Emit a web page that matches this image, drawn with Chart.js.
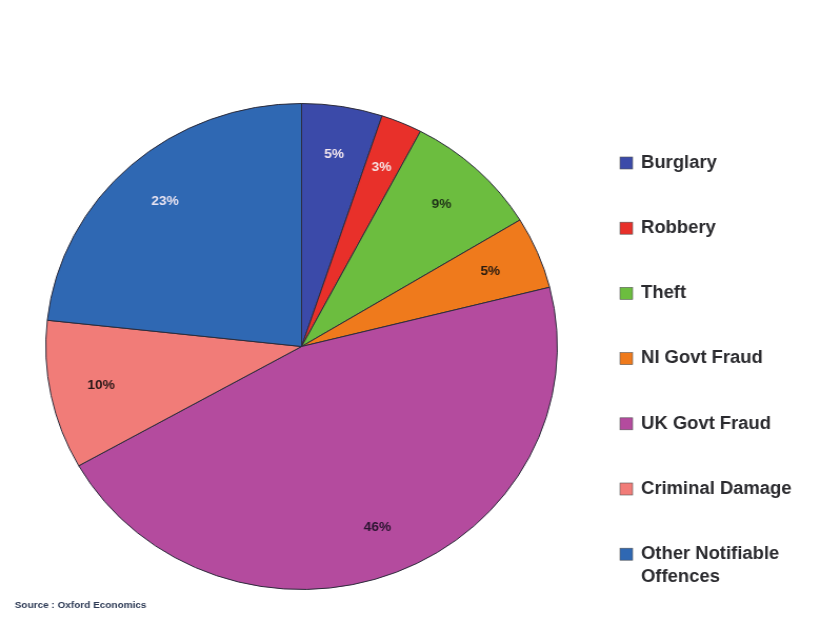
<!DOCTYPE html>
<html>
<head>
<meta charset="utf-8">
<title>Fraud and crime cost shares</title>
<script src="https://cdn.jsdelivr.net/npm/chart.js@4.4.1/dist/chart.umd.min.js"></script>
<style>
  html, body { margin: 0; padding: 0; background: #fff; overflow: hidden; }
  /* the original artwork is a little wider than tall, so the whole chart is stretched */
  #wrap { position: absolute; left: 0; top: 0; width: 779px; height: 635px;
          transform: scaleX(1.0526); transform-origin: 0 0; }
</style>
</head>
<body>
<div id="wrap"><canvas id="pie"></canvas></div>
<script>
// categories and shares (%)
const categories = ['Burglary', 'Robbery', 'Theft', 'NI Govt Fraud', 'UK Govt Fraud', 'Criminal Damage', 'Other Notifiable Offences'];
const shares = [5.1, 2.6, 8.6, 4.8, 45.8, 9.9, 23.3];
const sourceNote = 'Source : Oxford Economics';

const sliceColors = ['#3b4aa9', '#e8302a', '#6cbd3f', '#ef7a1c', '#b44b9e', '#f17c78', '#2f68b3'];
const valueColors = ['#f2e6ef', '#f6e2e2', '#1f3318', '#2a1c10', '#2a1430', '#2a1818', '#e9e4f2'];

const FONT = '"Liberation Sans", Arial, sans-serif';

// percentage labels inside each slice
const sliceLabels = {
  id: 'sliceLabels',
  afterDatasetsDraw(chart) {
    const ctx = chart.ctx;
    const data = chart.data.datasets[0].data;
    const total = data.reduce((a, b) => a + b, 0);
    ctx.save();
    ctx.font = 'bold 13px ' + FONT;
    ctx.textAlign = 'center';
    ctx.textBaseline = 'middle';
    chart.getDatasetMeta(0).data.forEach((arc, i) => {
      const p = arc.getProps(['x', 'y', 'startAngle', 'endAngle', 'outerRadius'], true);
      const mid = (p.startAngle + p.endAngle) / 2;
      const r = p.outerRadius * 0.8;
      ctx.fillStyle = valueColors[i];
      ctx.fillText(Math.round(data[i] / total * 100) + '%', p.x + Math.cos(mid) * r, p.y + Math.sin(mid) * r);
    });
    ctx.restore();
  }
};

// legend on the right, with wrapping for long names
const sideLegend = {
  id: 'sideLegend',
  afterDraw(chart) {
    const ctx = chart.ctx;
    const colors = chart.data.datasets[0].backgroundColor;
    const boxX = 589, textX = 609, maxW = 165, top = 163, step = 65.2, lineH = 23;
    ctx.save();
    ctx.font = 'bold 17.5px ' + FONT;
    ctx.textBaseline = 'middle';
    chart.data.labels.forEach((label, i) => {
      const y = top + i * step;
      ctx.fillStyle = colors[i];
      ctx.fillRect(boxX, y - 6, 12, 12);
      ctx.strokeStyle = '#555';
      ctx.lineWidth = 0.6;
      ctx.strokeRect(boxX, y - 6, 12, 12);
      // word wrap
      const lines = [];
      let line = '';
      label.split(' ').forEach(w => {
        const test = line ? line + ' ' + w : w;
        if (ctx.measureText(test).width > maxW && line) { lines.push(line); line = w; }
        else line = test;
      });
      lines.push(line);
      ctx.fillStyle = '#2a2a2e';
      lines.forEach((l, k) => ctx.fillText(l, textX, y + k * lineH));
    });
    // source note
    ctx.font = 'bold 9.5px ' + FONT;
    ctx.fillStyle = '#2d3a55';
    ctx.fillText(sourceNote, 14, 605);
    ctx.restore();
  }
};

new Chart(document.getElementById('pie'), {
  type: 'pie',
  data: {
    labels: categories,
    datasets: [{
      data: shares,
      backgroundColor: sliceColors,
      borderColor: '#2b2b3a',
      borderWidth: 1
    }]
  },
  options: {
    responsive: true,
    maintainAspectRatio: false,
    animation: false,
    layout: { padding: { top: 103, bottom: 45, left: 43, right: 249 } },
    plugins: {
      legend: { display: false },
      tooltip: { enabled: false }
    }
  },
  plugins: [sliceLabels, sideLegend]
});
</script>
</body>
</html>
